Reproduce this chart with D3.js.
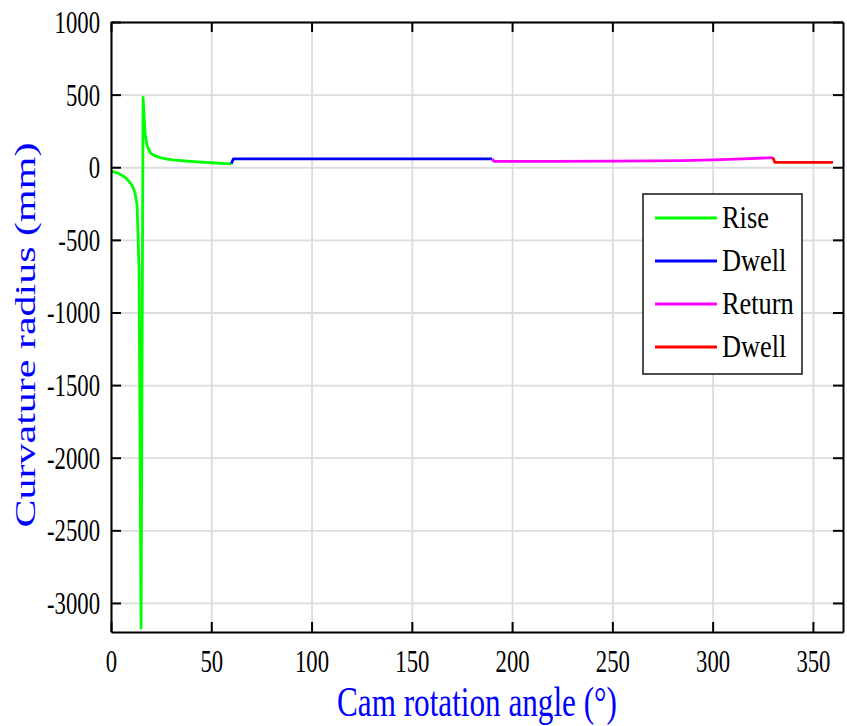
<!DOCTYPE html>
<html>
<head>
<meta charset="utf-8">
<script src="https://cdn.jsdelivr.net/npm/d3@7"></script>
<style>
  html, body { margin: 0; padding: 0; background: #fff; }
  svg { display: block; font-family: "Liberation Serif", "DejaVu Serif", serif; }
</style>
</head>
<body>
<svg id="chart" width="847" height="726"></svg>
<script>
// Cam profile: radius of curvature over one revolution, split by motion phase
const riseAngle  = [0, 2, 4, 6, 8, 10, 11, 12, 13, 14, 15, 16, 17, 18, 19, 20, 22, 25, 28, 32, 37, 43, 50, 55, 60];
const riseRadius = [-28, -33, -45, -60, -82, -115, -140, -180, -260, -700, -3172, 480, 230, 150, 115, 95, 78, 64, 56, 49, 43, 37, 31, 27, 23];

const dwell1Angle  = [60, 61, 190];
const dwell1Radius = [24, 57, 57];

const returnAngle  = [190, 191, 220, 250, 270, 285, 300, 315, 330];
const returnRadius = [57, 41, 41, 42, 44, 46, 51, 58, 66];

const dwell2Angle  = [330, 331, 360];
const dwell2Radius = [66, 34, 34];

const seriesNames  = ["Rise", "Dwell", "Return", "Dwell"];
const seriesColors = ["#00ff00", "#0000ff", "#ff00ff", "#ff0000"];

const xTicks = [0, 50, 100, 150, 200, 250, 300, 350];
const yTicks = [-3000, -2500, -2000, -1500, -1000, -500, 0, 500, 1000];
const xDomain = [0, 365];
const yDomain = [-3200, 1000];

const xLabel = "Cam rotation angle (°)";
const yLabel = "Curvature radius (mm)";

// ---- layout ----
const box = { left: 111, right: 843, top: 22, bottom: 632 };
const svg = d3.select("#chart");

const x = d3.scaleLinear().domain(xDomain).range([box.left, box.right]);
const y = d3.scaleLinear().domain(yDomain).range([box.bottom, box.top]);
const plain = d => String(d);   // integers with an ASCII hyphen for negatives

// grid
const grid = svg.append("g").attr("class", "grid");
grid.append("g")
  .attr("transform", `translate(0,${box.bottom})`)
  .call(d3.axisBottom(x).tickValues(xTicks).tickSize(-(box.bottom - box.top)).tickFormat(""))
  .call(g => g.select(".domain").remove())
  .call(g => g.selectAll("line").attr("stroke", "#dcdcdc").attr("stroke-width", 1.8));
grid.append("g")
  .attr("transform", `translate(${box.left},0)`)
  .call(d3.axisLeft(y).tickValues(yTicks).tickSize(-(box.right - box.left)).tickFormat(""))
  .call(g => g.select(".domain").remove())
  .call(g => g.selectAll("line").attr("stroke", "#dcdcdc").attr("stroke-width", 1.8));

// data lines
svg.append("defs").append("clipPath").attr("id", "plotClip")
  .append("rect").attr("x", box.left).attr("y", box.top)
  .attr("width", box.right - box.left).attr("height", box.bottom - box.top);

const series = [
  [riseAngle, riseRadius],
  [dwell1Angle, dwell1Radius],
  [returnAngle, returnRadius],
  [dwell2Angle, dwell2Radius]
];
const line = d3.line().x(d => x(d[0])).y(d => y(d[1]));
const plot = svg.append("g").attr("clip-path", "url(#plotClip)");
series.forEach((s, i) => {
  const pts = s[0].map((a, k) => [a, s[1][k]]);
  plot.append("path")
    .attr("d", line(pts))
    .attr("fill", "none")
    .attr("stroke", seriesColors[i])
    .attr("stroke-width", 2.8)
    .attr("stroke-linejoin", "round");
});

// axes (ticks pointing inward, box on all four sides)
const tickLen = 10;
function styleAxis(g) {
  g.select(".domain").attr("stroke", "#000").attr("stroke-width", 2);
  g.selectAll(".tick line").attr("stroke", "#000").attr("stroke-width", 2);
}
const xAxisG = svg.append("g")
  .attr("transform", `translate(0,${box.bottom})`)
  .call(d3.axisBottom(x).tickValues(xTicks).tickFormat(plain).tickSizeInner(-tickLen).tickSizeOuter(0))
  .call(styleAxis);
xAxisG.selectAll(".tick text")
  .attr("y", null).attr("dy", null)
  .attr("transform", "translate(0,40) scale(0.71,1)")
  .attr("font-size", 32)
  .attr("font-family", "Liberation Serif")
  .attr("fill", "#000");

const yAxisG = svg.append("g")
  .attr("transform", `translate(${box.left},0)`)
  .call(d3.axisLeft(y).tickValues(yTicks).tickFormat(plain).tickSizeInner(-tickLen).tickSizeOuter(0))
  .call(styleAxis);
yAxisG.selectAll(".tick text")
  .attr("x", null).attr("dy", null)
  .attr("transform", "translate(-11,10.5) scale(0.71,1)")
  .attr("font-size", 32)
  .attr("font-family", "Liberation Serif")
  .attr("fill", "#000");

svg.append("g")
  .attr("transform", `translate(0,${box.top})`)
  .call(d3.axisTop(x).tickValues(xTicks).tickSizeInner(-tickLen).tickSizeOuter(0).tickFormat(""))
  .call(styleAxis);
svg.append("g")
  .attr("transform", `translate(${box.right},0)`)
  .call(d3.axisRight(y).tickValues(yTicks).tickSizeInner(-tickLen).tickSizeOuter(0).tickFormat(""))
  .call(styleAxis);

// axis titles
svg.append("text")
  .attr("transform", `translate(${(box.left + box.right) / 2},716) scale(0.725,1)`)
  .attr("text-anchor", "middle")
  .attr("font-size", 43)
  .attr("fill", "#0000ff")
  .text(xLabel);

svg.append("text")
  .attr("transform", `translate(35,335) scale(0.68,1) rotate(-90)`)
  .attr("text-anchor", "middle")
  .attr("font-size", 42)
  .attr("fill", "#0000ff")
  .text(yLabel);

// legend
const legendBox = { x0: 643, y0: 194, x1: 802, y1: 374 };
const legend = svg.append("g");
legend.append("rect")
  .attr("x", legendBox.x0).attr("y", legendBox.y0)
  .attr("width", legendBox.x1 - legendBox.x0).attr("height", legendBox.y1 - legendBox.y0)
  .attr("fill", "#fff").attr("stroke", "#222").attr("stroke-width", 1.6);
const rowY = d3.scalePoint().domain(d3.range(seriesNames.length)).range([218, 347]);
seriesNames.forEach((name, i) => {
  const ry = rowY(i);
  legend.append("line")
    .attr("x1", 655).attr("x2", 717).attr("y1", ry).attr("y2", ry)
    .attr("stroke", seriesColors[i]).attr("stroke-width", 2.8);
  legend.append("text")
    .attr("transform", `translate(722,${ry + 10}) scale(0.85,1)`)
    .attr("font-size", 31)
    .attr("fill", "#000")
    .text(name);
});
</script>
</body>
</html>
